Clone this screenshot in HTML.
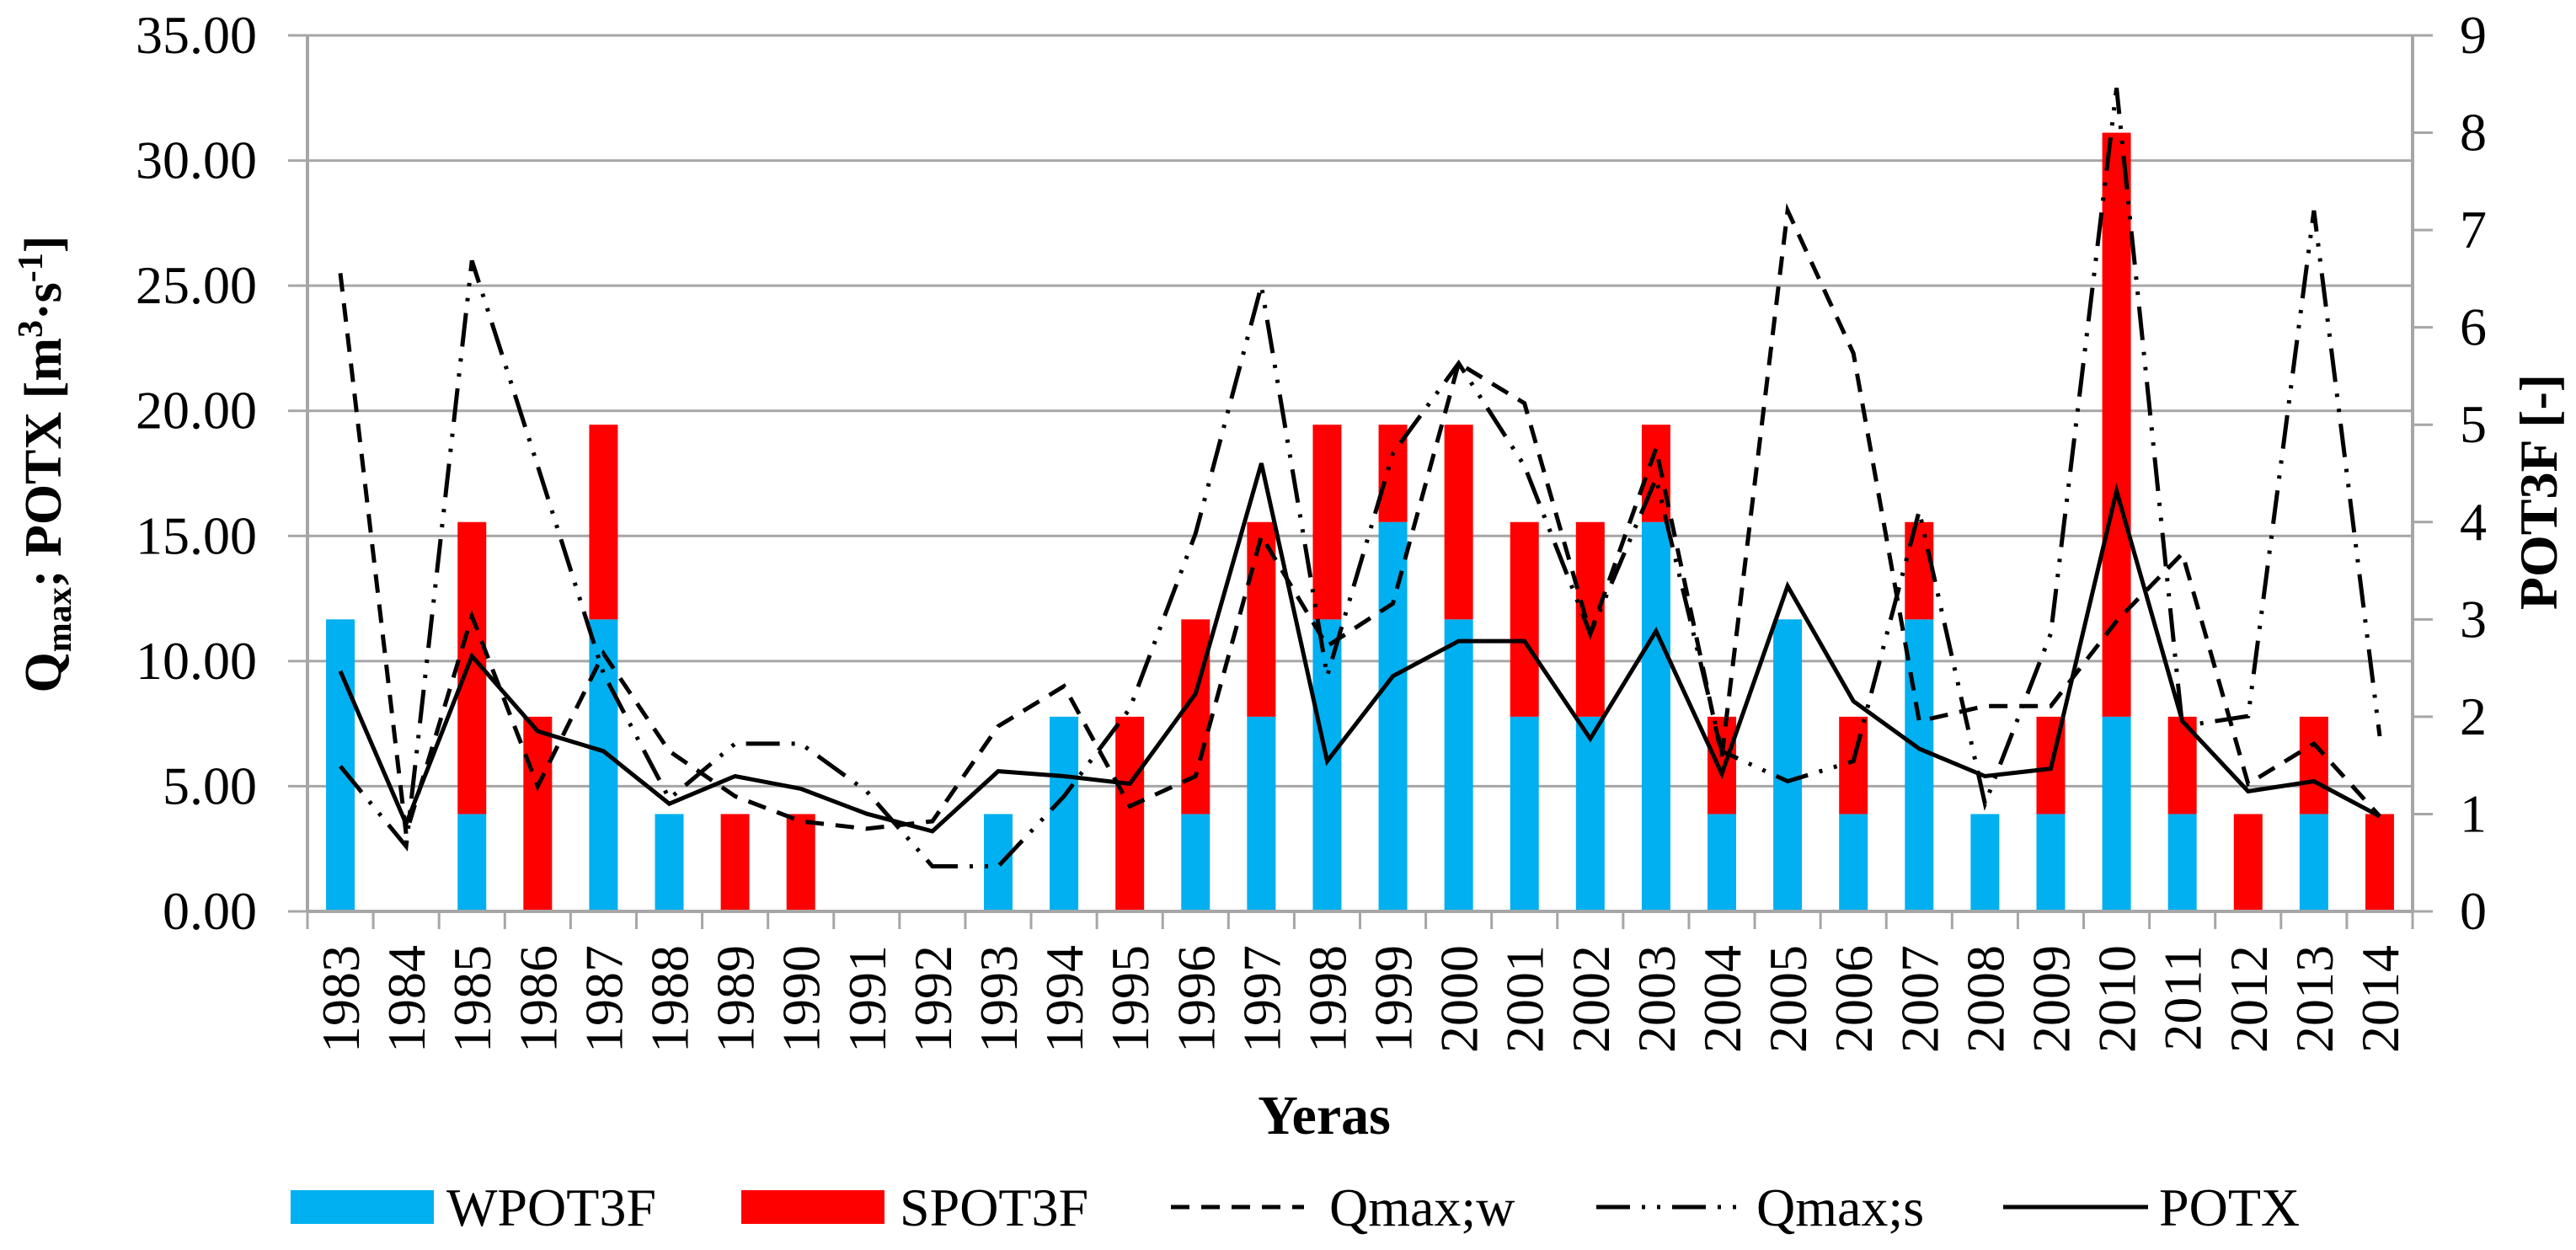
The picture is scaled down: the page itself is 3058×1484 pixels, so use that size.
<!DOCTYPE html>
<html><head><meta charset="utf-8"><style>
html,body{margin:0;padding:0;background:#fff}
svg{display:block}
text{font-family:"Liberation Serif",serif;fill:#000}
</style></head><body>
<svg id="chart" width="3058" height="1484" viewBox="0 0 3058 1484" xmlns="http://www.w3.org/2000/svg">
<g id="grid"></g>
<g id="bars"></g>
<g id="lines"></g>
<g id="axes"></g>
<text transform="translate(72,551) rotate(-90)" text-anchor="middle" font-size="62" font-weight="bold">Q<tspan font-size="42" dy="12">max</tspan><tspan dy="-12">; POTX [m</tspan><tspan font-size="42" dy="-22">3</tspan><tspan dy="22">·s</tspan><tspan font-size="42" dy="-22">-1</tspan><tspan dy="22">]</tspan></text>
<text transform="translate(3035,584) rotate(-90)" text-anchor="middle" font-size="64" font-weight="bold">POT3F [-]</text>
<text x="1572" y="1346" text-anchor="middle" font-size="66" font-weight="bold">Yeras</text>
<g>
<g><rect x="345" y="1413" width="170" height="40" fill="#00b0f0"/><text x="530" y="1455" font-size="64">WPOT3F</text></g>
<g><rect x="880" y="1413" width="170" height="40" fill="#ff0000"/><text x="1068" y="1455" font-size="64">SPOT3F</text></g>
<g><line x1="1390" y1="1433" x2="1548" y2="1433" stroke="#000" stroke-width="5" stroke-dasharray="22,14"/><text x="1578" y="1455" font-size="64">Qmax;w</text></g>
<g><line x1="1895" y1="1433" x2="2068" y2="1433" stroke="#000" stroke-width="5" stroke-dasharray="40,14,4,14,4,14"/><text x="2085" y="1455" font-size="64">Qmax;s</text></g>
<g><line x1="2378" y1="1433" x2="2550" y2="1433" stroke="#000" stroke-width="5"/><text x="2563" y="1455" font-size="64">POTX</text></g>
</g>
</svg>
<script>
const years = ["1983","1984","1985","1986","1987","1988","1989","1990","1991","1992","1993","1994","1995","1996","1997","1998","1999","2000","2001","2002","2003","2004","2005","2006","2007","2008","2009","2010","2011","2012","2013","2014"];
const wpot3f = [3,0,1,0,3,1,0,0,0,0,1,2,0,1,2,3,4,3,2,2,4,1,3,1,3,1,1,2,1,0,1,0];
const spot3f = [0,0,3,2,2,0,1,1,0,0,0,0,2,2,2,2,1,2,2,2,1,1,0,1,1,0,1,6,1,1,1,1];
const qmaxW = [25.5,3.1,11.8,5.0,10.3,6.4,4.6,3.6,3.3,3.6,7.4,9.0,4.2,5.4,15.0,10.6,12.3,21.9,20.3,11.1,18.5,6.2,28.0,22.3,7.6,8.2,8.2,11.6,14.3,5.1,6.7,3.8];
const qmaxS = [5.8,2.6,26.0,17.8,9.5,4.5,6.7,6.7,4.8,1.8,1.8,4.6,8.1,15.1,25.0,9.4,18.3,21.9,17.8,11.1,17.3,6.4,5.2,6.0,16.0,4.3,11.1,32.9,7.4,7.8,28.0,7.0];
const potx = [9.6,3.5,10.2,7.2,6.4,4.3,5.4,4.9,3.9,3.2,5.6,5.4,5.1,8.7,17.9,6.0,9.4,10.8,10.8,6.9,11.2,5.5,13.0,8.4,6.5,5.4,5.7,16.8,7.6,4.8,5.2,3.8];
const leftTicks = ["0.00","5.00","10.00","15.00","20.00","25.00","30.00","35.00"];
const rightTicks = ["0","1","2","3","4","5","6","7","8","9"];

const NS="http://www.w3.org/2000/svg";
const X0=365, X1=2864, Y0=1082, Y1=42;
const band=(X1-X0)/years.length;
const xc=i=>X0+band*(i+0.5);
const yL=v=>Y0-(v/35)*(Y0-Y1);
const yR=v=>Y0-(v/9)*(Y0-Y1);
function mk(tag,attrs,parent){const e=document.createElementNS(NS,tag);for(const k in attrs)e.setAttribute(k,attrs[k]);parent.appendChild(e);return e;}
const grid=document.getElementById('grid'),bars=document.getElementById('bars'),lines=document.getElementById('lines'),axes=document.getElementById('axes');

leftTicks.forEach((t,i)=>{
  const v=parseFloat(t);const y=yL(v);
  const g=mk('line',{x1:342,y1:y,x2:X1,y2:y,stroke:'#a6a6a6','stroke-width':3},grid);
  
  
  const tx=mk('text',{x:305,y:y+21,'text-anchor':'end','font-size':64},axes);
  tx.textContent=t;
  
  
});
rightTicks.forEach((t,i)=>{
  const y=yR(parseFloat(t));
  const tk=mk('line',{x1:X1,y1:y,x2:X1+24,y2:y,stroke:'#a6a6a6','stroke-width':3},axes);
  
  
  const tx=mk('text',{x:2920,y:y+21,'font-size':64},axes);
  tx.textContent=t;
  
  
});
const bw=34;
years.forEach((yr,i)=>{
  const cx=xc(i);
  if(wpot3f[i]>0){
    const r=mk('rect',{x:cx-bw/2,y:yR(wpot3f[i]),width:bw,height:Y0-yR(wpot3f[i]),fill:'#00b0f0'},bars);
    
    
  }
  if(spot3f[i]>0){
    const b=wpot3f[i], t=wpot3f[i]+spot3f[i];
    const r=mk('rect',{x:cx-bw/2,y:yR(t),width:bw,height:yR(b)-yR(t),fill:'#ff0000'},bars);
    
    
  }
  const tx=mk('text',{transform:`translate(${cx+22},1122) rotate(-90)`,'text-anchor':'end','font-size':64},axes);
  tx.textContent=yr;
  
  
});
for(let i=0;i<=years.length;i++){
  const x=X0+band*i;
  const tk=mk('line',{x1:x,y1:Y0,x2:x,y2:1103,stroke:'#a6a6a6','stroke-width':3},axes);
  
  
}
const la=mk('line',{x1:X0,y1:Y1,x2:X0,y2:Y0,stroke:'#a6a6a6','stroke-width':4},axes);


const ra=mk('line',{x1:X1,y1:Y1,x2:X1,y2:Y0,stroke:'#a6a6a6','stroke-width':4},axes);


const xa=mk('line',{x1:X0,y1:Y0,x2:X1,y2:Y0,stroke:'#a6a6a6','stroke-width':4},axes);



function series(arr,dash,name){
  const pts=arr.map((v,i)=>xc(i).toFixed(1)+','+yL(v).toFixed(1)).join(' ');
  const a={points:pts,fill:'none',stroke:'#000','stroke-width':5,'stroke-linejoin':'miter'};
  if(dash)a['stroke-dasharray']=dash;
  const p=mk('polyline',a,lines);
  
  
}
series(qmaxW,'22,14','line-qmax-w');
series(qmaxS,'40,14,4,14,4,14','line-qmax-s');
series(potx,null,'line-potx');
</script>
</body></html>
